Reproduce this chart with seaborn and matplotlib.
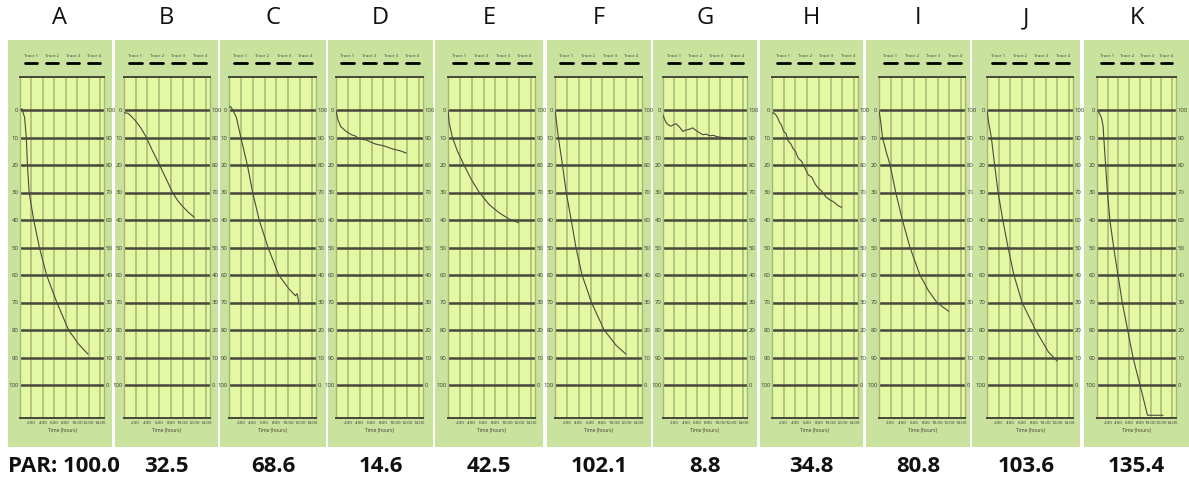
import numpy as np
import pandas as pd
import matplotlib
matplotlib.use("Agg")
import matplotlib.pyplot as plt
from matplotlib.patches import Rectangle
import seaborn as sns

sns.set_theme(style="white")
plt.rcParams['font.family'] = ['Open Sans', 'DejaVu Sans']

# panel letters and PAR values under each panel
letters = ['A', 'B', 'C', 'D', 'E', 'F', 'G', 'H', 'I', 'J', 'K']
par_labels = ['PAR: 100.0', '32.5', '68.6', '14.6', '42.5', '102.1', '8.8', '34.8', '80.8', '103.6', '135.4']

# curves: time (hours) and % decrease
time_A = [0, 0.35, 0.8, 1.1, 1.3, 1.6, 2.4, 3.4, 4.65, 6.45, 8.5, 10.2, 11.9]
drop_A = [0, -0.4, 2.7, 10, 20, 30, 40, 50, 60, 70, 80, 85, 88.8]
time_B = [0, 0.7, 1.3, 2.0, 2.9, 3.7, 4.8, 6.0, 7.2, 8.3, 9.2, 10.0, 11.0, 12.0]
drop_B = [1, 1.2, 2.4, 4, 6.6, 9.5, 14.5, 19.7, 25, 30, 33, 35, 37.2, 39]
time_C = [0, 0.3, 0.7, 1.25, 2.0, 3.1, 4.0, 5.1, 6.6, 8.4, 10.1, 11.2, 11.5, 11.8]
drop_C = [-1, -1.2, 0.3, 2.7, 10, 20, 30, 40, 50, 60, 65, 67.5, 66.8, 70]
time_D = [0, 0.3, 0.8, 1.6, 2.6, 3.2, 3.9, 5.2, 6.0, 6.7, 8.2, 9.6, 10.8, 11.9]
drop_D = [0, 3.4, 6.0, 7.6, 9.0, 9.4, 10.4, 11.0, 11.8, 12.4, 13.1, 14.2, 14.8, 15.7]
time_E = [0, 0.2, 0.75, 1.6, 2.7, 4.0, 5.3, 7.0, 8.6, 10.2, 11.9]
drop_E = [0, 4.6, 10, 15, 20, 25.5, 30, 34.5, 37.3, 39.5, 41]
time_F = [0, 0.57, 1.26, 1.9, 2.74, 3.54, 4.57, 6.17, 8.3, 10.3, 12]
drop_F = [0, 10, 20, 30, 40, 50, 60, 70, 80, 85.5, 88.8]
time_G = [0, 0.3, 0.6, 1.0, 1.4, 1.8, 2.3, 2.8, 3.5, 4.0, 4.6, 5.2, 5.8, 6.4, 7.0,
          7.6, 8.2, 8.8, 9.3, 10.0, 10.6, 11.2, 11.9]
drop_G = [1.8, 3.5, 4.7, 5.5, 5.9, 5.4, 5.0, 6.0, 7.8, 7.3, 7.0, 6.5, 7.5, 8.3, 9.0,
          8.8, 9.4, 9.2, 9.6, 9.9, 10.0, 10.1, 10.2]
time_H = [0, 0.3, 0.7, 1.0, 1.3, 1.6, 2.0, 2.4, 2.7, 3.2, 3.6, 4.0, 4.5, 5.0, 5.5,
          6.2, 6.8, 7.4, 7.9, 8.5, 9.2, 9.9, 10.6, 11.3, 11.9]
drop_H = [1.3, 1.0, 1.9, 3.0, 4.5, 5.5, 7.8, 8.6, 11.0, 12.3, 14.0, 15.0, 17.6, 18.5, 20.5,
          23.6, 24.4, 27.0, 28.4, 29.5, 31.6, 32.7, 33.5, 34.8, 35.4]
time_I = [0, 0.3, 0.6, 1.2, 1.9, 2.86, 4.0, 5.3, 7.0, 8.4, 9.9, 11.9]
drop_I = [0, 4.5, 10, 15, 20, 30, 40, 50, 60, 65.5, 70, 73.2]
time_J = [0, 0.3, 0.74, 1.3, 1.9, 2.7, 3.6, 4.6, 6.0, 8.3, 10.5, 12]
drop_J = [0, 4.8, 10, 20, 30, 40, 50, 60, 70, 80, 88, 91.3]
time_K = [0, 0.46, 0.86, 1.14, 1.26, 1.6, 1.94, 2.4, 3.1, 3.9, 4.7, 5.7, 6.7, 8.0, 9.4, 12.3]
drop_K = [0, 1.2, 3, 6, 10, 20, 30, 40, 50, 60, 70, 80, 90, 100, 111, 111]

times = [time_A, time_B, time_C, time_D, time_E, time_F, time_G, time_H, time_I, time_J, time_K]
drops = [drop_A, drop_B, drop_C, drop_D, drop_E, drop_F, drop_G, drop_H, drop_I, drop_J, drop_K]

rows = []
for letter, t, d in zip(letters, times, drops):
    for ti, di in zip(t, d):
        rows.append({'panel': letter, 'time': ti, 'drop': di})
df = pd.DataFrame(rows)

left_ticks = list(range(0, 101, 10))
hour_ticks = list(range(2, 15, 2))
hour_labels = [f'{h}:00' for h in hour_ticks]
trace_names = ['Trace 1', 'Trace 2', 'Trace 3', 'Trace 4']

# layout in pixels
W, H = 1189, 480
panel_left = [8, 115, 220, 328, 435, 547, 653, 760, 866, 972, 1084]
panel_right = [112, 218, 326, 433, 543, 651, 757, 863, 970, 1080, 1189]
plot_left = [20, 124, 229, 336, 448, 555, 663, 772, 879, 987, 1097]
plot_right = [104, 210, 316, 423, 535, 642, 747, 858, 965, 1073, 1176]
panel_top, panel_bottom = 40, 447
plot_top, plot_bottom = 77, 418

outer_green = '#c9e29e'
inner_green = '#e4f7a3'
dark_line = '#47473b'
light_line = '#a6b873'
tick_col = '#3d3d30'

fig = plt.figure(figsize=(W / 100, H / 100), dpi=100)
fig.patch.set_facecolor('white')

for i, letter in enumerate(letters):
    fig.patches.append(Rectangle((panel_left[i] / W, 1 - panel_bottom / H),
                                 (panel_right[i] - panel_left[i]) / W,
                                 (panel_bottom - panel_top) / H,
                                 transform=fig.transFigure, facecolor=outer_green,
                                 edgecolor='none', zorder=-5))
    ax = fig.add_axes([plot_left[i] / W, 1 - plot_bottom / H,
                       (plot_right[i] - plot_left[i]) / W, (plot_bottom - plot_top) / H])
    ax.set_zorder(2)
    ax.set_facecolor(inner_green)
    for h in hour_ticks:
        ax.axvline(h, color=light_line, lw=1.1, zorder=1)
    for y in left_ticks:
        ax.axhline(y, color=dark_line, lw=1.8, zorder=2)
    sns.lineplot(data=df[df['panel'] == letter], x='time', y='drop', sort=False,
                 estimator=None, color='#4a4a40', lw=0.8, ax=ax, legend=False, zorder=3)
    ax.set_xlim(0, 14.7)
    ax.set_ylim(112, -12)
    ax.set_yticks(left_ticks)
    ax.set_yticklabels([str(v) for v in left_ticks])
    ax.set_xticks(hour_ticks)
    ax.set_xticklabels(hour_labels)
    ax.tick_params(axis='y', length=0, labelsize=4.3, colors=tick_col, pad=1.2)
    ax.tick_params(axis='x', length=0, labelsize=3.2, colors=tick_col, pad=2)
    ax.set_xlabel('Time (hours)', fontsize=3.6, color=tick_col, labelpad=2.5)
    ax.set_ylabel('')
    sec = ax.secondary_yaxis('right', functions=(lambda y: 100 - y, lambda y: 100 - y))
    sec.set_yticks(left_ticks)
    sec.tick_params(length=0, labelsize=4.3, colors=tick_col, pad=1.2)
    sec.spines['right'].set_visible(False)
    for side in ['top', 'bottom']:
        ax.spines[side].set_color(dark_line)
        ax.spines[side].set_linewidth(1.4)
    for side in ['left', 'right']:
        ax.spines[side].set_color(light_line)
        ax.spines[side].set_linewidth(1.0)

    # little trace legend above the plot
    for j, name in enumerate(trace_names):
        cx = 0.13 + j * 0.25
        ax.text(cx, 1.062, name, transform=ax.transAxes, ha='center', va='center',
                fontsize=3.0, color=tick_col)
        ax.plot([cx - 0.075, cx + 0.075], [1.04, 1.04], transform=ax.transAxes,
                color='black', lw=2.0, clip_on=False)

    center = (panel_left[i] + panel_right[i]) / 2
    fig.text(center / W, 1 - 18 / H, letter, ha='center', va='center', fontsize=17, color='#111111')
    if i == 0:
        fig.text(8 / W, 1 - 466 / H, par_labels[i], ha='left', va='center',
                 fontsize=16, fontweight='bold', color='#111111')
    else:
        fig.text(center / W, 1 - 466 / H, par_labels[i], ha='center', va='center',
                 fontsize=16, fontweight='bold', color='#111111')

fig.savefig('out.png', dpi=100, facecolor='white')
